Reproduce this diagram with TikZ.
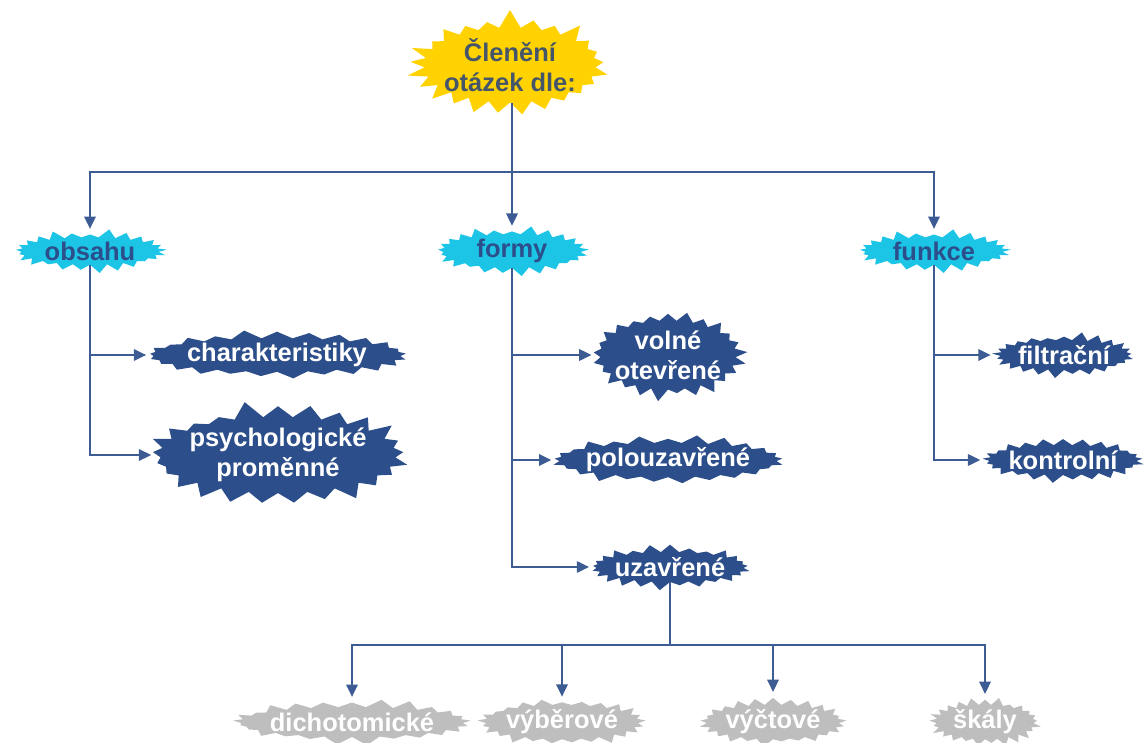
\documentclass[tikz,border=0pt]{standalone}
\usepackage{fontspec}
\setmainfont{Liberation Sans}
\usetikzlibrary{shapes.symbols,arrows.meta}

\definecolor{sunyellow}{HTML}{FFD200}
\definecolor{skycyan}{HTML}{1CC4E6}
\definecolor{navyblue}{HTML}{2C4E8A}
\definecolor{lineblue}{HTML}{3D5C94}
\definecolor{leafgray}{HTML}{BEBEBE}
\definecolor{slatetext}{HTML}{46566A}

\tikzset{
    burst/.style={starburst, starburst points=25, starburst point height=5pt,
        random starburst=#1, inner xsep=-3pt, inner ysep=0pt, align=center,
        font=\fontsize{14.5}{17}\selectfont\bfseries},
    rootburst/.style={burst=7, fill=sunyellow, text=slatetext,
        minimum width=4.2cm, minimum height=2.25cm, starburst point height=11pt},
    topicburst/.style={burst=3, fill=skycyan, text=navyblue,
        minimum width=3.1cm, minimum height=0.9cm},
    itemburst/.style={burst=#1, fill=navyblue, text=white},
    leafburst/.style={burst=#1, fill=leafgray, text=white},
    conn/.style={lineblue, line width=1.1pt},
    arr/.style={conn, -{Triangle[length=7pt,width=6.5pt]}, shorten >=3pt}
}

\begin{document}
\begin{tikzpicture}[x=0.02cm, y=-0.02cm]
    \useasboundingbox (0,0) rectangle (1146,743);

    % Root and topics
    \node[rootburst] (root) at (510,65) {Členění\\otázek dle:};
    \node[topicburst] (obsahu) at (90,251) {obsahu};
    \node[topicburst] (formy) at (512,251) {formy};
    \node[topicburst] (funkce) at (934,251) {funkce};

    % Items below obsahu
    \node[itemburst=11, minimum width=5.3cm, minimum height=0.9cm] (charakt) at (277,355) {charakteristiky};
    \node[itemburst=5, minimum width=5.1cm, minimum height=1.8cm, starburst point height=10pt] (psycho) at (278,455) {psychologické\\proměnné};

    % Items below formy
    \node[itemburst=2, minimum width=3.2cm, minimum height=1.7cm, starburst point height=7pt] (volne) at (668,355) {volné\\otevřené};
    \node[itemburst=9, minimum width=4.7cm, minimum height=0.9cm] (polouz) at (668,460) {polouzavřené};
    \node[itemburst=4, minimum width=3.3cm, minimum height=0.95cm] (uzavr) at (670,567) {uzavřené};

    % Items below funkce
    \node[itemburst=6, minimum width=2.9cm, minimum height=0.95cm] (filtr) at (1064,355) {filtrační};
    \node[itemburst=8, minimum width=3.3cm, minimum height=0.95cm] (kontr) at (1063,460) {kontrolní};

    % Kinds of closed questions
    \node[leafburst=12, minimum width=4.8cm, minimum height=0.95cm] (dicho) at (352,722) {dichotomické};
    \node[leafburst=13, minimum width=3.4cm, minimum height=0.95cm] (vyber) at (562,722) {výběrové};
    \node[leafburst=14, minimum width=3.0cm, minimum height=0.95cm] (vyct) at (773,722) {výčtové};
    \node[leafburst=15, minimum width=2.3cm, minimum height=0.95cm] (skaly) at (985,722) {škály};

    % Connectors from root
    \coordinate (rootfork) at (512,172);
    \draw[conn] (rootfork |- root.south) -- (rootfork);
    \draw[arr] (rootfork) -| (obsahu.north);
    \draw[arr] (rootfork) -- (formy.north);
    \draw[arr] (rootfork) -| (funkce.north);

    % Branches
    \draw[arr] (obsahu.south) |- (charakt.west);
    \draw[arr] (obsahu.south) |- (psycho.west);
    \draw[arr] (formy.south) |- (volne.west);
    \draw[arr] (formy.south) |- (polouz.west);
    \draw[arr] (formy.south) |- (uzavr.west);
    \draw[arr] (funkce.south) |- (filtr.west);
    \draw[arr] (funkce.south) |- (kontr.west);

    % Fork below uzavrene
    \coordinate (closedfork) at (670,645);
    \draw[conn] (closedfork |- uzavr.south) -- (closedfork);
    \foreach \leaf in {dicho,vyber,vyct,skaly}{
        \draw[arr] (closedfork) -| (\leaf.north);
    }
\end{tikzpicture}
\end{document}
